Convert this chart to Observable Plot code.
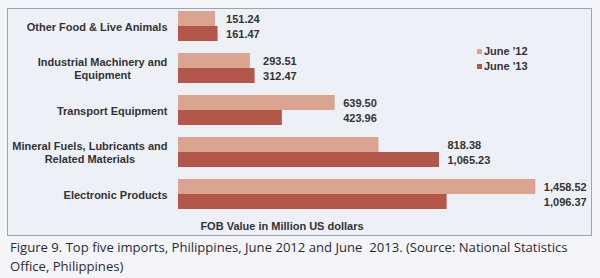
<!DOCTYPE html>
<html>
<head>
<meta charset="utf-8">
<script src="https://cdn.jsdelivr.net/npm/d3@7"></script>
<script src="https://cdn.jsdelivr.net/npm/@observablehq/plot@0.6"></script>
<style>
  html, body { margin: 0; padding: 0; background: #f4f5f9; }
  #wrap { position: relative; width: 600px; height: 278px; background: #f4f5f9; overflow: hidden; }
  #frame { position: absolute; left: 7px; top: 8px; width: 583px; height: 226px; border: 1px solid #9ea3bc; background: #eef0f7; }
  #chart { position: absolute; left: 0; top: 0; width: 600px; height: 240px; clip-path: inset(0 10px 0 0); }
  .legend { position: absolute; left: 477px; top: 44px; font: bold 11px "Liberation Sans", Arial, sans-serif; color: #333; }
  .legend div { height: 15px; line-height: 15px; white-space: nowrap; }
  .legend span.sw { display: inline-block; width: 5px; height: 5px; margin-right: 2px; vertical-align: 1px; }
  .xtitle { position: absolute; left: 182px; width: 200px; top: 220px; text-align: center; font: bold 11px "Liberation Sans", Arial, sans-serif; color: #333; }
  .caption { position: absolute; left: 10px; top: 238px; font: 13.1px "Open Sans", sans-serif; color: #2a2a36; line-height: 19px; white-space: pre; }
</style>
</head>
<body>
<div id="wrap">
  <div id="frame"></div>
  <div id="chart"></div>
  <div class="legend" id="legend"></div>
  <div class="xtitle" id="xtitle"></div>
  <div class="caption" id="caption"></div>
</div>
<script>
const categories = [
  "Other Food & Live Animals",
  "Industrial Machinery and\nEquipment",
  "Transport Equipment",
  "Mineral Fuels, Lubricants and\nRelated Materials",
  "Electronic Products"
];
const series = ["June '12", "June '13"];
const june12 = [151.24, 293.51, 639.50, 818.38, 1458.52];
const june13 = [161.47, 312.47, 423.96, 1065.23, 1096.37];
const colors = ["#d9a591", "#b3574b"];
const xTitle = "FOB Value in Million US dollars";
const captionText = "Figure 9. Top five imports, Philippines, June 2012 and June  2013. (Source: National Statistics\nOffice, Philippines)";

const rows = [];
categories.forEach((c, i) => {
  rows.push({category: c, series: series[0], value: june12[i]});
  rows.push({category: c, series: series[1], value: june13[i]});
});
const groupMax = new Map(categories.map((c, i) => [c, Math.max(june12[i], june13[i])]));
const fmt = d3.format(",.2f");

const font = '"Liberation Sans", Arial, sans-serif';

const chart = Plot.plot({
  width: 600,
  height: 240,
  marginTop: 10,
  marginBottom: 31,
  marginLeft: 178,
  marginRight: 30,
  style: {background: "transparent", fontFamily: font, fontSize: "11px", fontWeight: "bold", overflow: "visible"},
  x: {domain: [0, 1600], axis: null},
  y: {domain: series, padding: 0, axis: null},
  fy: {domain: categories, paddingInner: 0.29, paddingOuter: 0, axis: null},
  color: {domain: series, range: colors},
  marks: [
    Plot.barX(rows, {fy: "category", y: "series", x: "value", fill: "series"}),
    Plot.text(rows, {
      fy: "category", y: "series",
      x: d => groupMax.get(d.category),
      text: d => fmt(d.value),
      textAnchor: "start", dx: 8, fill: "#333",
      fontSize: 11, fontWeight: "bold"
    }),
    Plot.text(categories, {
      fy: d => d, frameAnchor: "left", dx: -11, textAnchor: "end",
      text: d => d, fill: "#333", fontSize: 11, fontWeight: "bold", lineHeight: 1.2
    })
  ]
});
document.getElementById("chart").appendChild(chart);

// center the lines of multi-line category labels within their right-aligned block
chart.querySelectorAll("text").forEach(t => {
  const spans = t.querySelectorAll("tspan");
  if (spans.length > 1) {
    const w = t.getBBox().width;
    t.setAttribute("text-anchor", "middle");
    spans.forEach(s => s.setAttribute("x", (-w / 2).toFixed(2)));
  }
});

const legend = document.getElementById("legend");
series.forEach((s, i) => {
  const row = document.createElement("div");
  const sw = document.createElement("span");
  sw.className = "sw";
  sw.style.background = colors[i];
  row.appendChild(sw);
  row.appendChild(document.createTextNode(s));
  legend.appendChild(row);
});
document.getElementById("xtitle").textContent = xTitle;
document.getElementById("caption").textContent = captionText;
</script>
</body>
</html>
